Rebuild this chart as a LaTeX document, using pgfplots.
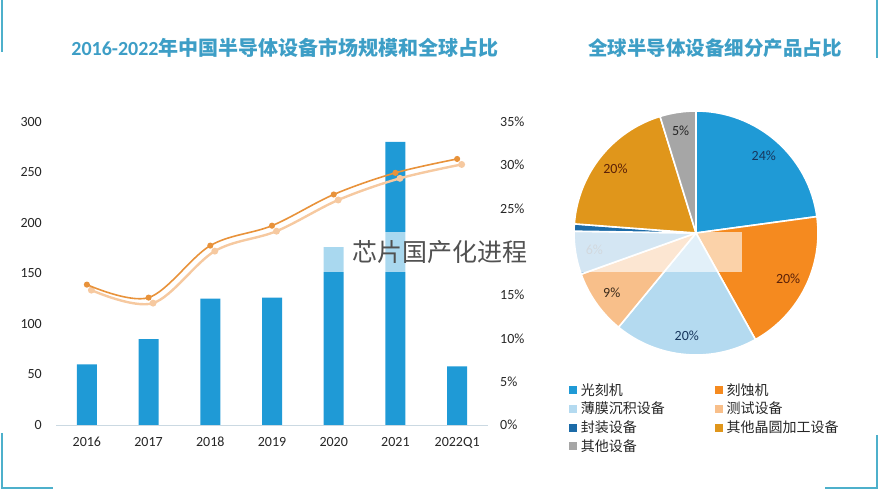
\documentclass[border=0pt]{standalone}
\usepackage{pgfplots}
\pgfplotsset{compat=1.18}
\usepackage{pgfplotstable}
\usepackage{fontspec}
\setmainfont{Carlito}
\newfontfamily\cjk{Noto Sans CJK SC}

\definecolor{barblue}{HTML}{1F9AD6}
\definecolor{lineor}{HTML}{E8923A}
\definecolor{lineshadow}{HTML}{F6C9A0}
\definecolor{titlec}{HTML}{3D9EC6}
\definecolor{framec}{HTML}{4DB0CB}
\definecolor{txt}{HTML}{262626}
\definecolor{basec}{HTML}{CBD9E2}
% pie slice colours
\definecolor{pc0}{HTML}{1F9AD6}
\definecolor{pc1}{HTML}{F58A1F}
\definecolor{pc2}{HTML}{B4DAF0}
\definecolor{pc3}{HTML}{F8BF8A}
\definecolor{pc4}{HTML}{8FBFE2}
\definecolor{pc5}{HTML}{1C6BA8}
\definecolor{pc6}{HTML}{E0961B}
\definecolor{pc7}{HTML}{A6A6A6}
% pie label colours
\definecolor{plc0}{HTML}{17365D}
\definecolor{plc1}{HTML}{5B2108}
\definecolor{plc2}{HTML}{17365D}
\definecolor{plc3}{HTML}{3A2A1A}
\definecolor{plc4}{HTML}{8A9AA8}
\definecolor{plc5}{HTML}{17365D}
\definecolor{plc6}{HTML}{5B2108}
\definecolor{plc7}{HTML}{262626}

\pgfplotstableread{
x year value share
0 2016 60 16.2
1 2017 85 14.7
2 2018 125 20.7
3 2019 126 23.0
4 2020 176 26.6
5 2021 280 29.1
6 2022Q1 58 30.7
}\maintab

\pgfplotstableread{
value show
24 1
20 1
20 1
9 1
6 1
1 0
20 1
5 1
}\pietab

% cumulative angles for the pie
\def\pietotal{0}
\pgfplotsforeachungrouped \i in {0,...,7}{%
  \pgfplotstablegetelem{\i}{value}\of\pietab
  \pgfmathsetmacro\pietotal{\pietotal+\pgfplotsretval}%
}
\def\piecum{0}
\pgfplotsforeachungrouped \i in {0,...,7}{%
  \pgfplotstablegetelem{\i}{value}\of\pietab
  \let\v\pgfplotsretval
  \pgfmathsetmacro\s{90-360*(\piecum/\pietotal)}%
  \pgfmathsetmacro\d{-360*(\v/\pietotal)}%
  \pgfmathsetmacro\m{\s+\d/2}%
  \expandafter\xdef\csname pieS\i\endcsname{\s}%
  \expandafter\xdef\csname pieD\i\endcsname{\d}%
  \expandafter\xdef\csname pieM\i\endcsname{\m}%
  \pgfplotstablegetelem{\i}{show}\of\pietab
  \ifnum\pgfplotsretval=1
    \expandafter\xdef\csname pieL\i\endcsname{\v\%}%
  \else
    \expandafter\xdef\csname pieL\i\endcsname{}%
  \fi
  \pgfmathsetmacro\piecum{\piecum+\v}%
}

\pgfplotsset{
  shareaxis/.style={
    anchor=south west,
    scale only axis, width=432pt, height=303.3pt,
    xmin=-0.5, xmax=6.5, ymin=0, ymax=35,
    major tick length=0pt, tick style={draw=none},
    clip=false,
  },
}

\begin{document}
\begin{tikzpicture}[x=1pt,y=1pt]
\useasboundingbox (0,0) rectangle (879,490);

% ---------- left: bars ----------
\begin{axis}[
  at={(56pt,65pt)}, anchor=south west,
  scale only axis, width=432pt, height=303.3pt,
  xmin=-0.5, xmax=6.5, ymin=0, ymax=300,
  xtick={0,...,6}, xticklabels from table={\maintab}{year},
  ytick={0,50,...,300},
  axis x line*=bottom, axis y line*=left,
  x axis line style={draw=basec, line width=0.8pt, -},
  y axis line style={draw=none},
  major tick length=0pt, tick style={draw=none},
  /pgf/number format/assume math mode=true,
  every tick label/.append style={font=\fontsize{14}{16}\selectfont, text=txt, inner sep=0pt},
  yticklabel style={anchor=east, xshift=-14pt},
  xticklabel style={anchor=north, yshift=-12pt},
  clip=false,
]
\addplot[ybar, bar width=20pt, fill=barblue, draw=none] table[x=x, y=value]{\maintab};
\end{axis}

% ---------- share line: shadow (same data, axis offset) ----------
\begin{axis}[shareaxis, at={(60.5pt,59.5pt)}, hide axis]
\addplot[lineshadow, line width=2.4pt, smooth, tension=0.55, mark=*, mark size=2.2pt,
  mark options={fill=lineshadow, draw=lineshadow}] table[x=x, y=share]{\maintab};
\end{axis}

% ---------- share line ----------
\begin{axis}[shareaxis, at={(56pt,65pt)},
  axis x line=none, axis y line*=right,
  y axis line style={draw=none},
  ytick={0,5,10,15,25,30,35},
  yticklabel={\pgfmathprintnumber{\tick}\%},
  /pgf/number format/assume math mode=true,
  every tick label/.append style={font=\fontsize{14}{16}\selectfont, text=txt, inner sep=0pt},
  yticklabel style={anchor=west, xshift=12pt},
]
\addplot[lineor, line width=1.6pt, smooth, tension=0.55, mark=*, mark size=2.2pt,
  mark options={fill=lineor, draw=lineor}] table[x=x, y=share]{\maintab};
\end{axis}

% ---------- right: pie ----------
\begin{axis}[
  at={(696pt,257pt)}, anchor=center,
  scale only axis, width=244pt, height=244pt,
  xmin=-1, xmax=1, ymin=-1, ymax=1,
  hide axis, clip=false,
  legend columns=2,
  legend cell align=left,
  legend style={at={(axis description cs:-0.02,-0.11)}, anchor=north west,
    draw=none, fill=none, inner sep=0pt,
    font=\cjk\fontsize{14}{16}\selectfont, text=txt,
    row sep=3pt,
    nodes={inner sep=1.2pt},
    /tikz/every odd column/.append style={column sep=3pt},
    /tikz/every even column/.append style={column sep=49pt}},
  legend image code/.code={\fill[#1] (0pt,-3.5pt) rectangle (7pt,3.5pt);},
]
\pgfplotsinvokeforeach{0,...,7}{
  \fill[fill=pc#1, draw=white, line width=1.6pt, line join=round]
    (axis cs:0,0) -- ++(\csname pieS#1\endcsname:122pt)
    arc[start angle=\csname pieS#1\endcsname, delta angle=\csname pieD#1\endcsname, radius=122pt] -- cycle;
}
\pgfplotsinvokeforeach{0,...,7}{
  \path (axis cs:0,0) ++(\csname pieM#1\endcsname:103pt)
    node[font=\fontsize{14}{16}\selectfont, text=plc#1] {\csname pieL#1\endcsname};
}
\addlegendimage{pc0}\addlegendentry{光刻机}
\addlegendimage{pc1}\addlegendentry{刻蚀机}
\addlegendimage{pc2}\addlegendentry{薄膜沉积设备}
\addlegendimage{pc3}\addlegendentry{测试设备}
\addlegendimage{pc5}\addlegendentry{封装设备}
\addlegendimage{pc6}\addlegendentry{其他晶圆加工设备}
\addlegendimage{pc7}\addlegendentry{其他设备}
\end{axis}

% ---------- titles ----------
\node[font=\cjk\bfseries\fontsize{20}{24}\selectfont, text=titlec] at (285,442)
  {{\rmfamily\bfseries 2016-2022}年中国半导体设备市场规模和全球占比};
\node[font=\cjk\bfseries\fontsize{19.5}{24}\selectfont, text=titlec] at (715,442)
  {全球半导体设备细分产品占比};

% ---------- watermark overlay ----------
\fill[white, opacity=0.62] (323,218) rectangle (742,258);
\node[font=\cjk\fontsize{25}{28}\selectfont, text=txt!80] at (440,237.5) {芯片国产化进程};

% ---------- frame corners ----------
\draw[framec, line width=2pt] (2,490) -- (2,438);
\draw[framec, line width=2pt] (2,57) -- (2,2) -- (53,2);
\draw[framec, line width=2pt] (877,490) -- (877,432);
\draw[framec, line width=2pt] (877,55) -- (877,2) -- (825,2);
\end{tikzpicture}
\end{document}
